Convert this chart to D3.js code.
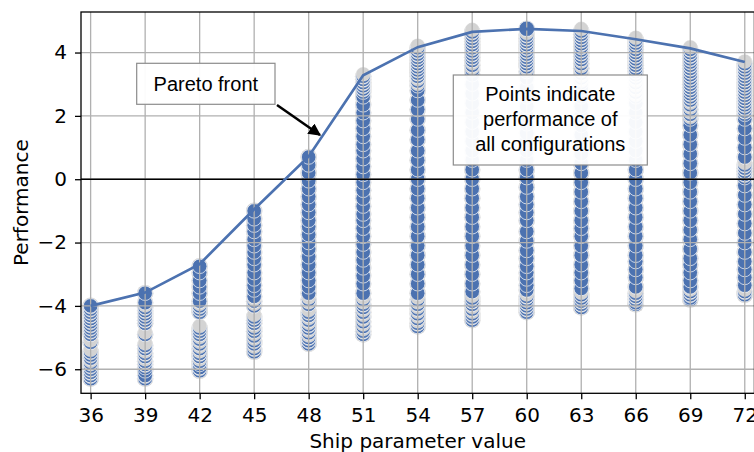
<!DOCTYPE html>
<html>
<head>
<meta charset="utf-8">
<script src="https://cdn.jsdelivr.net/npm/d3@7"></script>
<style>
  body { margin: 0; background: #fff; }
  svg { display: block; }
</style>
</head>
<body>
<svg id="chart" width="754" height="452"></svg>
<script>
// ship parameter values (x columns)
var xValues = [36, 39, 42, 45, 48, 51, 54, 57, 60, 63, 66, 69, 72];
var yTicks = [-6, -4, -2, 0, 2, 4];

// best performance per column
var paretoFront = [-4.0, -3.58, -2.68, -0.95, 0.72, 3.28, 4.17, 4.65, 4.75, 4.68, 4.42, 4.13, 3.7];

// configurations drawn as full blue points, per column
var solidPoints = [
  [-4.0],
  [-3.6, -3.9, -6.05, -6.2],
  [-2.75, -2.95, -3.2, -3.4, -3.6, -3.85, -5.95],
  [-1.0, -1.25, -1.45, -1.65, -1.9, -2.1, -2.3, -2.5, -2.7, -2.95, -3.15, -3.35, -3.5, -3.7],
  [0.7, 0.45, 0.2, -0.05, -0.3, -0.55, -0.8, -1.05, -1.3, -1.5, -1.75, -2.0, -2.2, -2.45, -2.7, -2.95, -3.2, -3.4, -3.6],
  [2.6, 2.35, 2.1, 1.85, 1.6, 1.35, 1.1, 0.9, 0.65, 0.4, 0.15, -0.1, -0.35, -0.6, -0.85, -1.1, -1.3, -1.55, -1.8, -2.05, -2.3, -2.55, -2.8, -3.05, -3.3, -3.6],
  [2.8, 2.5, 2.2, 1.9, 1.55, 1.25, 0.9, 0.6, 0.3, 0.0, -0.3, -0.6, -0.9, -1.2, -1.5, -1.8, -2.1, -2.4, -2.7, -3.0, -3.3, -3.6],
  [3.3, 3.0, 2.7, 2.4, 2.1, 1.8, 1.5, 1.2, 0.9, 0.6, 0.3, 0.0, -0.3, -0.6, -0.9, -1.2, -1.5, -1.8, -2.1, -2.4, -2.7, -3.0, -3.3, -3.55],
  [4.75, 3.2, 2.9, 2.6, 2.3, 2.0, 1.75, 1.45, 1.2, 0.9, 0.6, 0.3, 0.05, -0.25, -0.55, -0.8, -1.05, -1.3, -1.65, -1.95, -2.25, -2.5, -2.75, -2.95, -3.15, -3.35, -3.5],
  [2.85, 2.6, 2.3, 2.0, 1.7, 1.4, 1.1, 0.8, 0.5, 0.2, -0.1, -0.4, -0.7, -1.0, -1.3, -1.55, -1.8, -2.1, -2.4, -2.7, -2.95, -3.2, -3.45],
  [2.4, 2.1, 1.8, 1.5, 1.2, 0.9, 0.6, 0.3, 0.0, -0.3, -0.6, -0.9, -1.2, -1.5, -1.8, -2.1, -2.4, -2.6, -2.85, -3.1, -3.4],
  [1.7, 1.4, 1.1, 0.8, 0.5, 0.2, -0.1, -0.4, -0.7, -1.0, -1.3, -1.6, -1.9, -2.2, -2.5, -2.7, -2.95, -3.2, -3.4],
  [1.9, 1.6, 1.3, 1.0, 0.7, -0.2, -0.5, -0.8, -1.1, -1.4, -1.7, -2.0, -2.3, -2.6, -2.85, -3.1, -3.35]
];

// configurations that show as faded (gray) points, per column
var fadedPoints = [
  [-4.1, -4.2, -4.3, -4.4, -4.5, -4.6, -4.7, -4.8, -4.9, -5.15, -5.45, -5.55, -5.65, -5.8, -5.9, -6.0, -6.1, -6.2, -6.3],
  [-4.05, -4.15, -4.25, -4.35, -4.45, -4.55, -4.9, -5.25, -5.35, -5.5, -5.6, -5.75, -5.85, -5.95, -6.3],
  [-4.0, -4.1, -4.2, -4.7, -4.8, -4.9, -5.05, -5.2, -5.35, -5.5, -5.6, -5.75, -5.85, -6.05],
  [-3.85, -4.0, -4.35, -4.45, -4.55, -4.7, -4.8, -4.95, -5.1, -5.2, -5.35, -5.45],
  [-3.8, -3.95, -4.2, -4.3, -4.45, -4.6, -4.7, -4.85, -5.0, -5.1, -5.2],
  [3.25, 3.15, 3.05, 2.95, 2.85, 2.75, -3.8, -3.95, -4.05, -4.2, -4.35, -4.5, -4.65, -4.8, -4.9],
  [4.15, 4.05, 3.95, 3.85, 3.75, 3.65, 3.55, 3.45, 3.35, 3.25, 3.1, 2.95, -3.8, -3.95, -4.1, -4.25, -4.4, -4.55, -4.65],
  [4.65, 4.55, 4.45, 4.35, 4.25, 4.15, 4.05, 3.95, 3.85, 3.75, 3.6, 3.45, -3.75, -3.85, -3.95, -4.1, -4.25, -4.35, -4.45],
  [4.55, 4.45, 4.35, 4.25, 4.15, 4.05, 3.95, 3.85, 3.75, 3.65, 3.55, 3.4, -3.7, -3.8, -3.9, -4.0, -4.1, -4.2],
  [4.68, 4.58, 4.48, 4.38, 4.28, 4.18, 4.08, 3.98, 3.88, 3.78, 3.65, 3.5, 3.35, 3.2, 3.05, -3.65, -3.75, -3.85, -3.95, -4.05],
  [4.4, 4.3, 4.2, 4.1, 4.0, 3.9, 3.8, 3.7, 3.6, 3.5, 3.4, 3.3, 3.2, 3.05, 2.9, 2.75, 2.6, -3.6, -3.7, -3.8, -3.9, -3.95],
  [4.1, 4.0, 3.9, 3.8, 3.7, 3.6, 3.5, 3.4, 3.3, 3.2, 3.1, 3.0, 2.9, 2.8, 2.7, 2.6, 2.5, 2.35, 2.2, 2.05, 1.9, -3.55, -3.65, -3.75, -3.8],
  [3.65, 3.55, 3.45, 3.35, 3.25, 3.15, 3.05, 2.95, 2.85, 2.75, 2.65, 2.55, 2.45, 2.35, 2.25, 2.15, 2.05, 0.45, 0.35, 0.25, 0.15, 0.05, -3.55, -3.65]
];

var plot = { left: 81, top: 12, right: 754.4, bottom: 393.3 };
var blue = "#4c72b0";
var gray = "#d3d3d3";

var svg = d3.select("#chart");

var xScale = d3.scaleLinear()
  .domain([35.47, 72.53])
  .range([plot.left, plot.right]);

var yScale = d3.scaleLinear()
  .domain([-6.76, 5.28])
  .range([plot.bottom, plot.top]);

// flatten into one list, sorted low to high inside each column
var points = [];
xValues.forEach(function (xv, i) {
  var col = [];
  solidPoints[i].forEach(function (v) { col.push({ x: xv, y: v, faded: false }); });
  fadedPoints[i].forEach(function (v) { col.push({ x: xv, y: v, faded: true }); });
  col.sort(function (a, b) { return a.y - b.y; });
  points = points.concat(col);
});

svg.append("clipPath").attr("id", "plotClip")
  .append("rect")
  .attr("x", plot.left).attr("y", plot.top)
  .attr("width", plot.right - plot.left)
  .attr("height", plot.bottom - plot.top);

var pointsLayer = svg.append("g").attr("clip-path", "url(#plotClip)");

// gray halo under every point
pointsLayer.append("g").selectAll("circle")
  .data(points)
  .enter().append("circle")
  .attr("cx", function (d) { return xScale(d.x); })
  .attr("cy", function (d) { return yScale(d.y); })
  .attr("r", 8.3)
  .attr("fill", gray);

var pts = pointsLayer.append("g").selectAll("g")
  .data(points)
  .enter().append("g");

pts.append("circle")
  .attr("cx", function (d) { return xScale(d.x); })
  .attr("cy", function (d) { return yScale(d.y); })
  .attr("r", function (d) { return d.y === 4.75 ? 7.8 : 7.3; })
  .attr("fill", blue)
  .attr("stroke", "#fff")
  .attr("stroke-width", 0.7);

// faded points: gray cover leaves only a thin blue arc
pts.filter(function (d) { return d.faded; })
  .append("circle")
  .attr("cx", function (d) { return xScale(d.x); })
  .attr("cy", function (d) { return yScale(d.y) - 2.2; })
  .attr("r", 7.2)
  .attr("fill", gray)
  .attr("stroke", "#fff")
  .attr("stroke-opacity", 0.5)
  .attr("stroke-width", 0.6);

// grid on top of the points
var grid = svg.append("g").attr("clip-path", "url(#plotClip)");
grid.selectAll(".gx")
  .data(xValues)
  .enter().append("line")
  .attr("x1", function (d) { return xScale(d); })
  .attr("x2", function (d) { return xScale(d); })
  .attr("y1", plot.top).attr("y2", plot.bottom)
  .attr("stroke", "#b0b0b0").attr("stroke-width", 1.3);
grid.selectAll(".gy")
  .data(yTicks)
  .enter().append("line")
  .attr("x1", plot.left).attr("x2", plot.right)
  .attr("y1", function (d) { return yScale(d); })
  .attr("y2", function (d) { return yScale(d); })
  .attr("stroke", "#b0b0b0").attr("stroke-width", 1.3);

// zero line
svg.append("line")
  .attr("x1", plot.left).attr("x2", plot.right)
  .attr("y1", yScale(0)).attr("y2", yScale(0))
  .attr("stroke", "#000").attr("stroke-width", 1.5);

// pareto front
var line = d3.line()
  .x(function (d, i) { return xScale(xValues[i]); })
  .y(function (d) { return yScale(d); });

svg.append("path")
  .datum(paretoFront)
  .attr("d", line)
  .attr("fill", "none")
  .attr("stroke", blue)
  .attr("stroke-width", 2.7)
  .attr("clip-path", "url(#plotClip)");

// axes
var xAxis = d3.axisBottom(xScale)
  .tickValues(xValues)
  .tickSize(6)
  .tickPadding(9)
  .tickFormat(d3.format("d"));

var yAxis = d3.axisLeft(yScale)
  .tickValues(yTicks)
  .tickSize(6)
  .tickPadding(8)
  .tickFormat(d3.format("d"));

var gx = svg.append("g")
  .attr("transform", "translate(0," + plot.bottom + ")")
  .call(xAxis);
var gy = svg.append("g")
  .attr("transform", "translate(" + plot.left + ",0)")
  .call(yAxis);

[gx, gy].forEach(function (g) {
  g.select(".domain").remove();
  g.selectAll(".tick line").attr("stroke", "#000").attr("stroke-width", 1.3);
  g.selectAll(".tick text")
    .attr("fill", "#000")
    .style("font-family", "DejaVu Sans")
    .style("font-size", "20px");
});

// frame
svg.append("rect")
  .attr("x", plot.left).attr("y", plot.top)
  .attr("width", plot.right - plot.left)
  .attr("height", plot.bottom - plot.top)
  .attr("fill", "none")
  .attr("stroke", "#000")
  .attr("stroke-width", 1.3);

// axis titles
svg.append("text")
  .attr("x", (plot.left + plot.right) / 2)
  .attr("y", 448)
  .attr("text-anchor", "middle")
  .style("font-family", "DejaVu Sans")
  .style("font-size", "20px")
  .text("Ship parameter value");

svg.append("text")
  .attr("transform", "translate(28," + ((plot.top + plot.bottom) / 2) + ") rotate(-90)")
  .attr("text-anchor", "middle")
  .style("font-family", "DejaVu Sans")
  .style("font-size", "20px")
  .text("Performance");

// annotations
svg.append("defs").append("marker")
  .attr("id", "arrowHead")
  .attr("viewBox", "0 0 10 10")
  .attr("refX", 9).attr("refY", 5)
  .attr("markerWidth", 5).attr("markerHeight", 5)
  .attr("orient", "auto")
  .append("path")
  .attr("d", "M0,0L10,5L0,10z")
  .attr("fill", "#000");

svg.append("line")
  .attr("x1", 277).attr("y1", 105)
  .attr("x2", 320).attr("y2", 135)
  .attr("stroke", "#000")
  .attr("stroke-width", 2.5)
  .attr("marker-end", "url(#arrowHead)");

function textBox(x, y, w, h, lines, baseline) {
  svg.append("rect")
    .attr("x", x).attr("y", y)
    .attr("width", w).attr("height", h)
    .attr("fill", "#fff")
    .attr("fill-opacity", 0.95)
    .attr("stroke", "#8c8c8c")
    .attr("stroke-width", 1.2);
  lines.forEach(function (t, i) {
    svg.append("text")
      .attr("x", x + w / 2)
      .attr("y", baseline + i * 25)
      .attr("text-anchor", "middle")
      .style("font-family", "Liberation Sans, Arial, sans-serif")
      .style("font-size", "20px")
      .text(t);
  });
}

textBox(136.7, 63.3, 138.3, 41, ["Pareto front"], 91);
textBox(453.3, 75, 194, 90, ["Points indicate", "performance of", "all configurations"], 101);
</script>
</body>
</html>
